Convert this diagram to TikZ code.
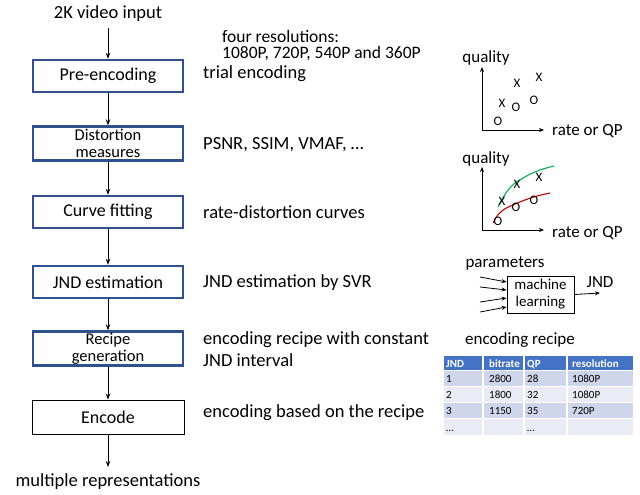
\documentclass[tikz,border=0pt]{standalone}
\usepackage{fontspec}
\setmainfont{Carlito}
\usetikzlibrary{arrows.meta}
\definecolor{boxblue}{HTML}{2F528F}
\definecolor{hdr}{HTML}{4472C4}
\definecolor{rowA}{HTML}{CFD5EA}
\definecolor{rowB}{HTML}{E9EBF5}
\definecolor{cgreen}{HTML}{00B050}
\definecolor{cred}{HTML}{C00000}
\tikzset{
  stepbox/.style={draw=boxblue, line width=2.4pt, minimum width=150pt, minimum height=32pt, align=center, font=\fontsize{18}{14}\selectfont, inner sep=0pt},
  twoline/.style={font=\fontsize{16.5}{16.5}\selectfont, minimum height=34pt},
  plainbox/.style={draw=black, line width=0.9pt, minimum width=152pt, minimum height=34pt, align=center, font=\fontsize{18}{14}\selectfont, inner sep=0pt},
  flow/.style={-{Stealth[length=6pt,width=4.5pt]}, line width=0.8pt},
  desc/.style={anchor=west, font=\fontsize{18.5}{20}\selectfont, inner sep=0pt},
  small/.style={anchor=west, font=\fontsize{17.5}{20}\selectfont, inner sep=0pt},
  lbl/.style={font=\fontsize{17}{18}\selectfont, inner sep=0pt},
  mk/.style={font=\fontsize{13}{14}\selectfont, inner sep=0pt},
  axis/.style={-{Stealth[length=5pt,width=4pt]}, line width=0.8pt},
  cell/.style={font=\fontsize{11}{12}\selectfont, anchor=base west, inner sep=0pt},
  hcell/.style={font=\bfseries\fontsize{11}{12}\selectfont, text=white, anchor=base west, inner sep=0pt}
}
\begin{document}
\begin{tikzpicture}[x=1pt,y=-1pt]
\useasboundingbox (0,0) rectangle (640,495);
% left flow
\node[font=\fontsize{18.5}{20}\selectfont, inner sep=0pt] (in) at (108,14) {2K video input};
\node[stepbox] (pre) at (108,76) {Pre-encoding};
\node[stepbox, twoline] (dis) at (108,143.5) {Distortion\\measures};
\node[stepbox] (cf) at (108,212) {Curve fitting};
\node[stepbox] (jnd) at (108,282) {JND estimation};
\node[stepbox, twoline] (rec) at (108,348.5) {Recipe\\generation};
\node[plainbox] (enc) at (108,417) {Encode};
\node[font=\fontsize{18.5}{20}\selectfont, inner sep=0pt] (out) at (108,482) {multiple representations};
\coordinate (inb) at (108,28);
\coordinate (oute) at (108,467);
\draw[flow] (inb) -- (pre.north);
\draw[flow] (pre.south) -- (dis.north);
\draw[flow] (dis.south) -- (cf.north);
\draw[flow] (cf.south) -- (jnd.north);
\draw[flow] (jnd.south) -- (rec.north);
\draw[flow] (rec.south) -- (enc.north);
\draw[flow] (enc.south) -- (oute);
% descriptions
\node[small] (d0a) at (222,36) {four resolutions:};
\node[small] (d0b) at (222,54) {1080P, 720P, 540P and 360P};
\node[desc] (d1) at (203,74) {trial encoding};
\node[desc] (d2) at (203,145) {PSNR, SSIM, VMAF, …};
\node[desc] (d3) at (203,212) {rate-distortion curves};
\node[desc] (d4) at (203,283) {JND estimation by SVR};
\node[desc] (d5a) at (203,340) {encoding recipe with constant};
\node[desc] (d5b) at (203,360) {JND interval};
\node[desc] (d6) at (203,413) {encoding based on the recipe};
% plot 1
\coordinate (o1) at (482,130);
\coordinate (y1) at (482,67);
\coordinate (x1) at (544,130);
\draw[axis] (o1) -- (y1);
\draw[axis] (o1) -- (x1);
\node[lbl] (q1) at (486,58) {quality};
\node[lbl, anchor=west] (r1) at (552,131) {rate or QP};
\node[mk] (m11) at (517,83) {X};
\node[mk] (m12) at (539,77) {X};
\node[mk] (m13) at (502,103) {X};
\node[mk] (m14) at (516,107) {O};
\node[mk] (m15) at (534,100) {O};
\node[mk] (m16) at (498,121) {O};
% plot 2
\coordinate (o2) at (482,230);
\coordinate (y2) at (482,167);
\coordinate (x2) at (544,230);
\draw[axis] (o2) -- (y2);
\draw[axis] (o2) -- (x2);
\node[lbl] (q2) at (486,159) {quality};
\node[lbl, anchor=west] (r2) at (552,233) {rate or QP};
\draw[cgreen, line width=1.1pt] (498,207) .. controls (505,192) and (512,184) .. (520,180) .. controls (532,172) and (542,169) .. (554,166);
\draw[cred, line width=1.1pt] (493,223) .. controls (498,212) and (505,208) .. (513,205) .. controls (528,198) and (540,195) .. (550,193);
\node[mk] (m21) at (517,184) {X};
\node[mk] (m22) at (539,177) {X};
\node[mk] (m23) at (502,201) {X};
\node[mk] (m24) at (516,207) {O};
\node[mk] (m25) at (534,200) {O};
\node[mk] (m26) at (498,221) {O};
% machine learning
\node[lbl] (par) at (505,263) {parameters};
\node[draw, line width=0.8pt, minimum width=67pt, minimum height=37pt, align=center, inner sep=0pt, font=\fontsize{15}{17}\selectfont] (ml) at (540.5,294.5) {machine\\learning};
\coordinate (i1) at (480,277);
\coordinate (i2) at (480,287);
\coordinate (i3) at (480,302);
\coordinate (i4) at (480,312);
\draw[axis] (i1) -- (ml.west |- 0,282);
\draw[axis] (i2) -- (ml.west |- 0,290);
\draw[axis] (i3) -- (ml.west |- 0,298);
\draw[axis] (i4) -- (ml.west |- 0,307);
\coordinate (mlo) at (600,293);
\draw[axis] (ml.east) -- (mlo);
\node[lbl] (jo) at (600,282) {JND};
% table
\node[lbl] (tt) at (520,340) {encoding recipe};
\fill[hdr] (444,356) rectangle (633,370);
\fill[rowA] (444,370) rectangle (633,386);
\fill[rowB] (444,386) rectangle (633,402);
\fill[rowA] (444,402) rectangle (633,418);
\fill[rowB] (444,418) rectangle (633,435);
\foreach \yy in {370,386,402,418} \draw[white, line width=1pt] (444,\yy) -- (633,\yy);
\foreach \xx in {483,524,567} \draw[white, line width=1.2pt] (\xx,356) -- (\xx,435);
\node[hcell] (h1) at (446,367) {JND};
\node[hcell] (h2) at (489,367) {bitrate};
\node[hcell] (h3) at (527,367) {QP};
\node[hcell] (h4) at (572,367) {resolution};
\node[cell] (c11) at (446,382) {1};
\node[cell] (c12) at (489,382) {2800};
\node[cell] (c13) at (527,382) {28};
\node[cell] (c14) at (572,382) {1080P};
\node[cell] (c21) at (446,398) {2};
\node[cell] (c22) at (489,398) {1800};
\node[cell] (c23) at (527,398) {32};
\node[cell] (c24) at (572,398) {1080P};
\node[cell] (c31) at (446,414) {3};
\node[cell] (c32) at (489,414) {1150};
\node[cell] (c33) at (527,414) {35};
\node[cell] (c34) at (572,414) {720P};
\node[cell] (c41) at (446,431) {…};
\node[cell] (c43) at (527,431) {…};
\end{tikzpicture}
\end{document}
